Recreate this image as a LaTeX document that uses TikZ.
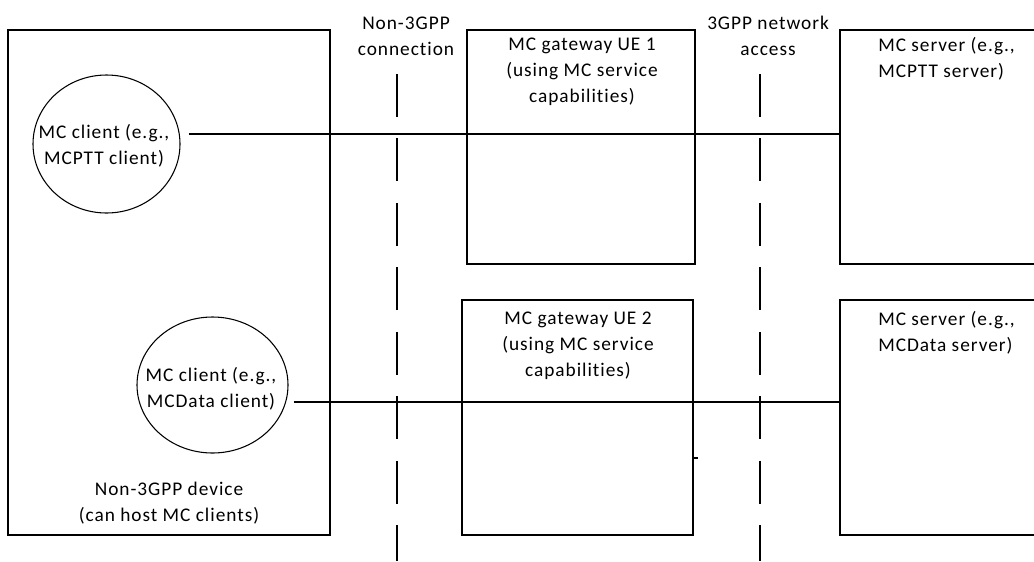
\documentclass[tikz,border=0pt]{standalone}
\usepackage{fontspec}
\setmainfont[LetterSpace=5,Ligatures={NoCommon,NoRare}]{Carlito}
\usetikzlibrary{fit,shapes.geometric}
\begin{document}
\begin{tikzpicture}[x=0.75pt,y=-0.75pt,
  box/.style={draw,line width=0.8pt,inner sep=0pt},
  ell/.style={draw,ellipse,line width=0.8pt,inner sep=0pt},
  txt/.style={align=center,inner sep=0pt,font=\fontsize{14.5pt}{19.5pt}\selectfont},
  conn/.style={line width=0.8pt},
  sep/.style={line width=2.2pt,dash pattern=on 32.25pt off 16.1pt}]
\useasboundingbox (0,0) rectangle (1034,561);
\clip (0,0) rectangle (1034,561);
% boxes
\node[box,fit={(8,30)(330,535)}] (dev) {};
\node[box,fit={(467,30)(695,264)}] (g1) {};
\node[box,fit={(462,300)(693,535)}] (g2) {};
\node[box,fit={(840,30)(1045,264)}] (s1) {};
\node[box,fit={(840,300)(1045,535)}] (s2) {};
% ellipses
\node[ell,minimum width=110.25pt,minimum height=103.5pt] (e1) at (106.5,144) {};
\node[ell,minimum width=113.25pt,minimum height=102pt] (e2) at (212.5,385) {};
% texts
\node[txt] (e1t) at (104,146) {MC client (e.g.,\\MCPTT client)};
\node[txt] (e2t) at (211,389) {MC client (e.g.,\\MCData client)};
\node[txt] (devt) at (169,503) {Non-3GPP device\\(can host MC clients)};
\node[txt] (g1t) at (582,72) {MC gateway UE 1\\(using MC service\\capabilities)};
\node[txt] (g2t) at (578,346) {MC gateway UE 2\\(using MC service\\capabilities)};
\node[txt,align=left,anchor=west] (s1t) at (878,59) {MC server (e.g.,\\MCPTT server)};
\node[txt,align=left,anchor=west] (s2t) at (878,333) {MC server (e.g.,\\MCData server)};
\node[txt] (n3t) at (406,36) {Non-3GPP\\connection};
\node[txt] (gppt) at (768,36) {3GPP network\\access};
% separators
\coordinate (d1top) at (397,74);
\coordinate (d1bot) at (397,561);
\coordinate (d2top) at (760,74);
\coordinate (d2bot) at (760,561);
\draw[sep] (d1top) -- (d1bot);
\draw[sep] (d2top) -- (d2bot);
% connectors
\coordinate (c1) at ([shift={(8,-10)}]e1.east);
\coordinate (c2) at ([shift={(5,17)}]e2.east);
\draw[conn] (c1) -- (c1 -| s1.west);
\draw[conn] (c2) -- (c2 -| s2.west);
% small tick
\coordinate (tk) at ([shift={(0,40.5)}]g2.east);
\draw[conn] (tk) -- ++(4,0);
\end{tikzpicture}
\end{document}
